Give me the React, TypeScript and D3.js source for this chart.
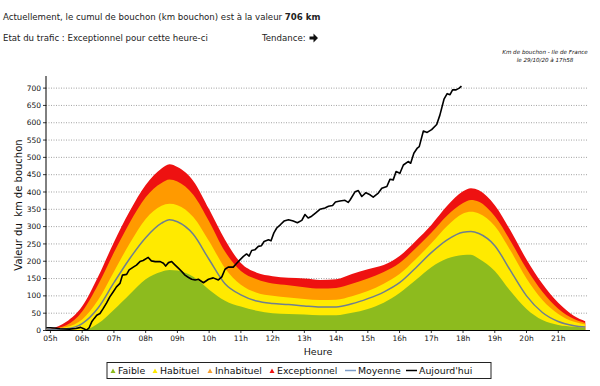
import * as d3 from 'd3';

// Heures (décimales) des seuils
const hours = [4.9, 5, 5.5, 6, 6.5, 7, 7.5, 8, 8.5, 8.75, 9, 9.5, 10, 10.5, 11, 11.5, 12, 12.5, 13, 13.5, 14, 14.5, 15, 15.5, 16, 16.5, 17, 17.5, 18, 18.25, 18.5, 19, 19.5, 20, 20.5, 21, 21.5, 21.85];

const faible = [0, 0, 0, 0, 20, 60, 105, 148, 170, 175, 173, 155, 118, 86, 69, 57, 50, 48, 46, 44, 44, 51, 62, 80, 108, 145, 183, 208, 218, 219, 207, 172, 113, 62, 30, 16, 11, 8];
const habituel = [2, 3, 10, 32, 88, 170, 252, 322, 360, 366, 362, 328, 258, 180, 132, 109, 100, 95, 91, 88, 89, 99, 114, 135, 163, 205, 252, 302, 338, 343, 338, 302, 230, 150, 88, 48, 25, 17];
const inhabituel = [3, 4, 15, 55, 132, 225, 312, 385, 426, 436, 430, 392, 315, 228, 172, 148, 136, 131, 125, 121, 123, 135, 150, 169, 195, 237, 282, 332, 368, 377, 372, 330, 258, 178, 112, 63, 33, 22];
const exceptionnel = [4, 5, 25, 70, 155, 255, 345, 420, 468, 480, 472, 432, 350, 262, 195, 167, 157, 152, 150, 146, 148, 163, 177, 189, 215, 258, 305, 360, 402, 411, 405, 362, 288, 205, 135, 80, 42, 27];
const moyenne = [3, 3, 5, 20, 65, 138, 208, 268, 310, 320, 314, 278, 205, 135, 103, 85, 78, 75, 71, 68, 68, 77, 92, 111, 138, 180, 225, 262, 284, 286, 280, 245, 172, 100, 52, 26, 14, 10];

// Aujourd'hui
const todayHours = [4.87, 5.0, 5.13, 5.3, 5.6, 5.8, 5.95, 6.05, 6.14, 6.22, 6.3, 6.38, 6.46, 6.56, 6.66, 6.77, 6.87, 6.98, 7.08, 7.19, 7.27, 7.4, 7.48, 7.61, 7.71, 7.82, 7.92, 8.08, 8.18, 8.3, 8.46, 8.56, 8.63, 8.72, 8.82, 8.93, 9.03, 9.14, 9.24, 9.35, 9.45, 9.56, 9.66, 9.82, 9.98, 10.13, 10.29, 10.4, 10.5, 10.6, 10.76, 10.87, 10.97, 11.08, 11.18, 11.26, 11.34, 11.44, 11.55, 11.65, 11.73, 11.87, 11.95, 12.04, 12.13, 12.25, 12.36, 12.5, 12.65, 12.78, 12.92, 13.02, 13.12, 13.23, 13.36, 13.49, 13.65, 13.76, 13.89, 13.98, 14.12, 14.28, 14.38, 14.44, 14.6, 14.7, 14.81, 14.94, 15.07, 15.17, 15.33, 15.44, 15.6, 15.7, 15.8, 15.89, 16.01, 16.12, 16.27, 16.35, 16.45, 16.56, 16.62, 16.75, 16.87, 17.01, 17.17, 17.27, 17.4, 17.5, 17.59, 17.67, 17.78, 17.88, 17.95];
const todayValues = [8, 8, 7, 5, 4, 6, 9, 5, 1, 8, 25, 35, 44, 49, 63, 80, 97, 112, 126, 136, 160, 162, 175, 183, 189, 199, 202, 211, 201, 199, 199, 194, 186, 196, 199, 189, 180, 170, 160, 153, 148, 146, 148, 138, 148, 152, 146, 155, 177, 183, 183, 194, 204, 214, 221, 215, 231, 233, 243, 245, 257, 262, 259, 282, 296, 306, 316, 320, 316, 311, 318, 335, 325, 330, 340, 350, 354, 359, 361, 371, 374, 376, 370, 377, 401, 404, 387, 398, 392, 385, 397, 411, 416, 437, 435, 459, 454, 478, 488, 483, 512, 527, 531, 576, 572, 580, 595, 622, 668, 684, 681, 695, 695, 700, 706];

const tickHours = d3.range(5, 22);
const yTicks = d3.range(0, 701, 50);

const bands = [
  { name: 'Exceptionnel', values: exceptionnel, color: '#ee1111' },
  { name: 'Inhabituel', values: inhabituel, color: '#ff9a00' },
  { name: 'Habituel', values: habituel, color: '#ffea00' },
  { name: 'Faible', values: faible, color: '#8dbb1e' },
];

const legendItems = [
  { label: 'Faible', color: '#8dbb1e', type: 'tri', x: 113 },
  { label: 'Habituel', color: '#ffea00', type: 'tri', x: 155 },
  { label: 'Inhabituel', color: '#f5a030', type: 'tri', x: 210 },
  { label: 'Exceptionnel', color: '#ee1111', type: 'tri', x: 272 },
  { label: 'Moyenne', color: '#7d9dc8', type: 'line', x: 345 },
  { label: "Aujourd'hui", color: '#000', type: 'line', x: 406 },
];

export default function App() {
  const width = 600;
  const height = 386;
  const x = d3.scaleLinear().domain([4.86, 22]).range([46, 590]);
  const y = d3.scaleLinear().domain([0, 735]).range([330.5, 76]);

  const area = (vals: number[]) =>
    d3
      .area<number>()
      .x((_, i) => x(hours[i]))
      .y0(y(0))
      .y1((d) => y(d))
      .curve(d3.curveMonotoneX)(vals) || '';

  const moyLine =
    d3
      .line<number>()
      .x((_, i) => x(hours[i]))
      .y((d) => y(d))
      .curve(d3.curveMonotoneX)(moyenne) || '';

  const todayLine =
    d3
      .line<number>()
      .x((_, i) => x(todayHours[i]))
      .y((d) => y(d))(todayValues) || '';

  const font = 'DejaVu Sans, Verdana, sans-serif';

  return (
    <div style={{ position: 'absolute', left: 0, top: 0 }}>
      <svg width={width} height={height} style={{ display: 'block', background: '#fff' }} fontFamily={font}>
        {/* en-tête */}
        <text x={3} y={20} fontSize={8.6} fill="#222">
          Actuellement, le cumul de bouchon (km bouchon) est à la valeur <tspan fontWeight="bold">706 km</tspan>
        </text>
        <text x={3} y={41} fontSize={8.6} fill="#222">
          Etat du trafic : Exceptionnel pour cette heure-ci
        </text>
        <text x={262} y={41} fontSize={8.6} fill="#222">
          Tendance:
        </text>
        {/* flèche tendance */}
        <path d="M309.5,36.5 L313.5,36.5 L313.5,33.5 L318,38 L313.5,42.5 L313.5,39.5 L309.5,39.5 Z" fill="#111" />
        <text x={545} y={54} fontSize={5.6} fontStyle="italic" textAnchor="middle" fill="#111">
          Km de bouchon - Ile de France
        </text>
        <text x={545} y={62} fontSize={5.6} fontStyle="italic" textAnchor="middle" fill="#111">
          le 29/10/20 à 17h58
        </text>

        {/* grille */}
        {yTicks.slice(1).map((t) => (
          <line key={t} x1={46} x2={588} y1={y(t)} y2={y(t)} stroke="#8a8a8a" strokeWidth={0.8} strokeDasharray="1,1.5" />
        ))}

        {/* zones */}
        {bands.map((b) => (
          <path key={b.name} d={area(b.values)} fill={b.color} />
        ))}
        <path d={moyLine} fill="none" stroke="#6f7f8f" strokeWidth={1.5} />
        <path d={todayLine} fill="none" stroke="#000" strokeWidth={1.6} strokeLinejoin="round" />

        {/* axes */}
        <line x1={46} x2={46} y1={76} y2={330.5} stroke="#000" strokeWidth={1} />
        <line x1={46} x2={590} y1={330.5} y2={330.5} stroke="#000" strokeWidth={1} />
        {yTicks.map((t) => (
          <g key={t}>
            <line x1={43} x2={46} y1={y(t)} y2={y(t)} stroke="#000" strokeWidth={0.8} />
            <text x={41} y={y(t)} dy="0.35em" fontSize={7.5} textAnchor="end" fill="#111">
              {t}
            </text>
          </g>
        ))}
        {tickHours.map((h) => (
          <g key={h}>
            <line x1={x(h)} x2={x(h)} y1={330.5} y2={333} stroke="#000" strokeWidth={0.8} />
            <text x={x(h)} y={341} fontSize={7.5} textAnchor="middle" fill="#111">
              {`${String(h).padStart(2, '0')}h`}
            </text>
          </g>
        ))}
        <text x={318} y={355} fontSize={9.5} textAnchor="middle" fill="#111">
          Heure
        </text>
        <text
          transform="translate(22,205) rotate(-90)"
          fontSize={10}
          textAnchor="middle"
          fill="#111"
          style={{ whiteSpace: 'pre' }}
        >
          {'Valeur du  km de bouchon'}
        </text>

        {/* légende */}
        <rect x={107} y={362.5} width={384} height={16} fill="#fff" stroke="#222" strokeWidth={1} />
        {legendItems.map((it) => (
          <g key={it.label}>
            {it.type === 'tri' ? (
              <path d={`M${it.x - 2.5},${373} L${it.x + 2.5},${373} L${it.x},${368.5} Z`} fill={it.color} />
            ) : (
              <line x1={it.x} x2={it.x + 11} y1={370.5} y2={370.5} stroke={it.color} strokeWidth={1.5} />
            )}
            <text x={it.type === 'tri' ? it.x + 5 : it.x + 13} y={370.5} dy="0.35em" fontSize={9.4} fill="#111">
              {it.label}
            </text>
          </g>
        ))}
      </svg>
    </div>
  );
}
